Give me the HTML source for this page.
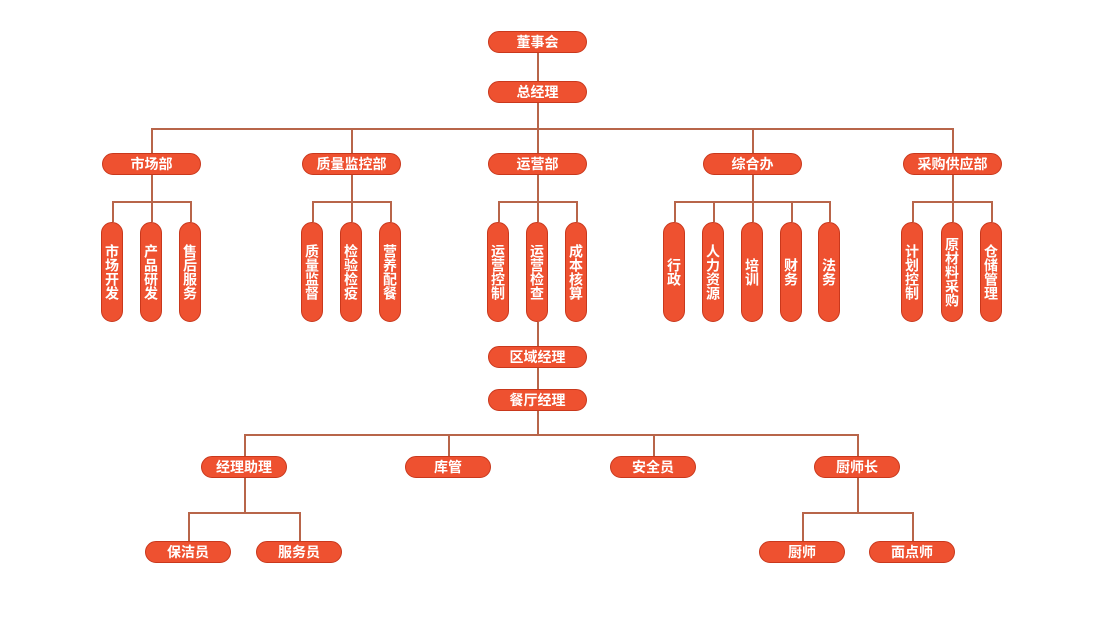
<!DOCTYPE html>
<html><head><meta charset="utf-8"><style>
body{margin:0;width:1100px;height:632px;background:#fff;position:relative;overflow:hidden;font-family:"Liberation Sans","Noto Sans CJK SC",sans-serif}
.n{position:absolute;box-sizing:border-box;background:#ee5130;border:1.5px solid #c9381c;border-radius:11px;color:#fff;font-weight:bold;font-size:14px;display:flex;align-items:center;justify-content:center;line-height:1}
.h{height:22px}
.v{width:22px;height:100px;top:222px;writing-mode:vertical-rl;text-orientation:upright;font-size:14px;letter-spacing:0px}
.l{position:absolute;background:#b8654a}
</style></head><body>
<div class="l" style="left:537px;top:53px;width:1.5px;height:28px"></div>
<div class="l" style="left:537px;top:102px;width:1.5px;height:26px"></div>
<div class="l" style="left:151px;top:128px;width:802px;height:1.5px"></div>
<div class="l" style="left:151px;top:128px;width:1.5px;height:25px"></div>
<div class="l" style="left:351px;top:128px;width:1.5px;height:25px"></div>
<div class="l" style="left:537px;top:128px;width:1.5px;height:25px"></div>
<div class="l" style="left:752px;top:128px;width:1.5px;height:25px"></div>
<div class="l" style="left:952px;top:128px;width:1.5px;height:25px"></div>
<div class="l" style="left:151px;top:175px;width:1.5px;height:47px"></div>
<div class="l" style="left:112px;top:201px;width:78px;height:1.5px"></div>
<div class="l" style="left:112px;top:201px;width:1.5px;height:21px"></div>
<div class="l" style="left:190px;top:201px;width:1.5px;height:21px"></div>
<div class="l" style="left:351px;top:175px;width:1.5px;height:47px"></div>
<div class="l" style="left:312px;top:201px;width:78px;height:1.5px"></div>
<div class="l" style="left:312px;top:201px;width:1.5px;height:21px"></div>
<div class="l" style="left:390px;top:201px;width:1.5px;height:21px"></div>
<div class="l" style="left:537px;top:175px;width:1.5px;height:47px"></div>
<div class="l" style="left:498px;top:201px;width:78px;height:1.5px"></div>
<div class="l" style="left:498px;top:201px;width:1.5px;height:21px"></div>
<div class="l" style="left:576px;top:201px;width:1.5px;height:21px"></div>
<div class="l" style="left:752px;top:175px;width:1.5px;height:47px"></div>
<div class="l" style="left:674px;top:201px;width:155px;height:1.5px"></div>
<div class="l" style="left:674px;top:201px;width:1.5px;height:21px"></div>
<div class="l" style="left:713px;top:201px;width:1.5px;height:21px"></div>
<div class="l" style="left:791px;top:201px;width:1.5px;height:21px"></div>
<div class="l" style="left:829px;top:201px;width:1.5px;height:21px"></div>
<div class="l" style="left:952px;top:175px;width:1.5px;height:47px"></div>
<div class="l" style="left:912px;top:201px;width:79px;height:1.5px"></div>
<div class="l" style="left:912px;top:201px;width:1.5px;height:21px"></div>
<div class="l" style="left:991px;top:201px;width:1.5px;height:21px"></div>
<div class="l" style="left:537px;top:322px;width:1.5px;height:24px"></div>
<div class="l" style="left:537px;top:368px;width:1.5px;height:21px"></div>
<div class="l" style="left:537px;top:411px;width:1.5px;height:23px"></div>
<div class="l" style="left:244px;top:434px;width:614px;height:1.5px"></div>
<div class="l" style="left:244px;top:434px;width:1.5px;height:22px"></div>
<div class="l" style="left:448px;top:434px;width:1.5px;height:22px"></div>
<div class="l" style="left:653px;top:434px;width:1.5px;height:22px"></div>
<div class="l" style="left:857px;top:434px;width:1.5px;height:22px"></div>
<div class="l" style="left:244px;top:477px;width:1.5px;height:35px"></div>
<div class="l" style="left:188px;top:512px;width:112px;height:1.5px"></div>
<div class="l" style="left:188px;top:512px;width:1.5px;height:29px"></div>
<div class="l" style="left:299px;top:512px;width:1.5px;height:29px"></div>
<div class="l" style="left:857px;top:477px;width:1.5px;height:35px"></div>
<div class="l" style="left:802px;top:512px;width:111px;height:1.5px"></div>
<div class="l" style="left:802px;top:512px;width:1.5px;height:29px"></div>
<div class="l" style="left:912px;top:512px;width:1.5px;height:29px"></div>
<div class="n h" style="left:488px;top:31px;width:99px">董事会</div>
<div class="n h" style="left:488px;top:81px;width:99px">总经理</div>
<div class="n h" style="left:102px;top:153px;width:99px">市场部</div>
<div class="n h" style="left:302px;top:153px;width:99px">质量监控部</div>
<div class="n h" style="left:488px;top:153px;width:99px">运营部</div>
<div class="n h" style="left:703px;top:153px;width:99px">综合办</div>
<div class="n h" style="left:903px;top:153px;width:99px">采购供应部</div>
<div class="n v" style="left:101px">市场开发</div>
<div class="n v" style="left:140px">产品研发</div>
<div class="n v" style="left:179px">售后服务</div>
<div class="n v" style="left:301px">质量监督</div>
<div class="n v" style="left:340px">检验检疫</div>
<div class="n v" style="left:379px">营养配餐</div>
<div class="n v" style="left:487px">运营控制</div>
<div class="n v" style="left:526px">运营检查</div>
<div class="n v" style="left:565px">成本核算</div>
<div class="n v" style="left:663px">行政</div>
<div class="n v" style="left:702px">人力资源</div>
<div class="n v" style="left:741px">培训</div>
<div class="n v" style="left:780px">财务</div>
<div class="n v" style="left:818px">法务</div>
<div class="n v" style="left:901px">计划控制</div>
<div class="n v" style="left:941px">原材料采购</div>
<div class="n v" style="left:980px">仓储管理</div>
<div class="n h" style="left:488px;top:346px;width:99px">区域经理</div>
<div class="n h" style="left:488px;top:389px;width:99px">餐厅经理</div>
<div class="n h" style="left:201px;top:456px;width:86px">经理助理</div>
<div class="n h" style="left:405px;top:456px;width:86px">库管</div>
<div class="n h" style="left:610px;top:456px;width:86px">安全员</div>
<div class="n h" style="left:814px;top:456px;width:86px">厨师长</div>
<div class="n h" style="left:145px;top:541px;width:86px">保洁员</div>
<div class="n h" style="left:256px;top:541px;width:86px">服务员</div>
<div class="n h" style="left:759px;top:541px;width:86px">厨师</div>
<div class="n h" style="left:869px;top:541px;width:86px">面点师</div>
</body></html>
